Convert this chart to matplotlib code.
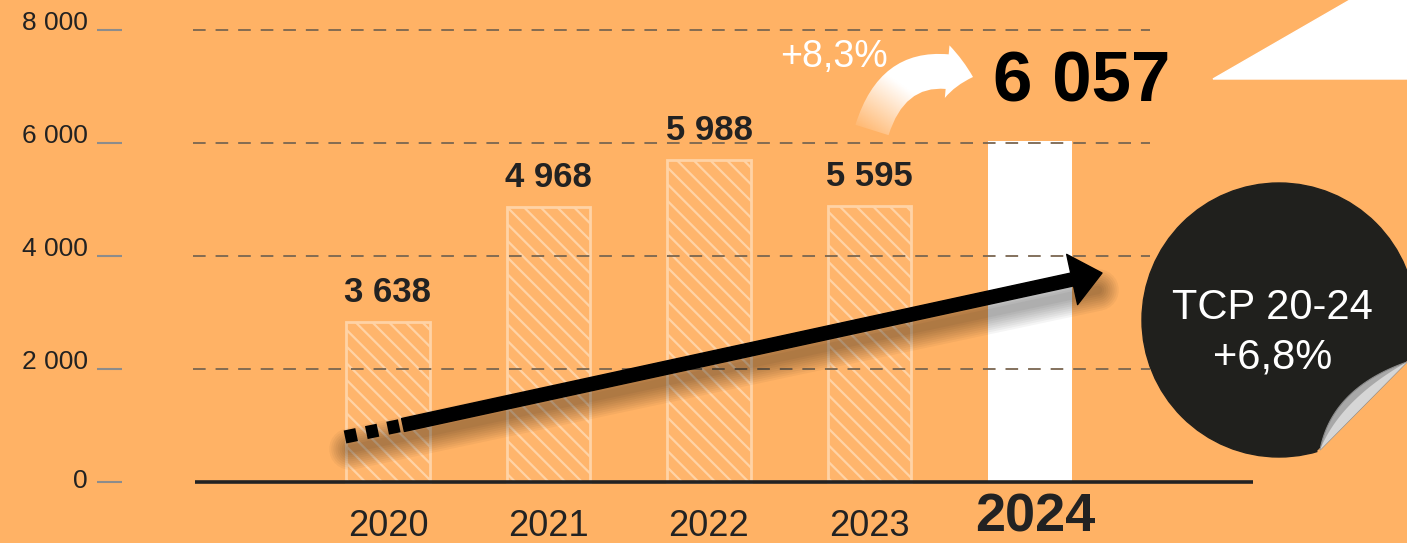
import matplotlib
matplotlib.use('Agg')
import matplotlib.pyplot as plt
import numpy as np
from matplotlib.patches import Ellipse, Polygon, FancyArrowPatch

# data
years = ['2020', '2021', '2022', '2023', '2024']
bar_heights = [2830, 4870, 5700, 4885, 6035]      # heights as drawn in the source
value_labels = ['3 638', '4 968', '5 988', '5 595', '6 057']
y_ticks = [0, 2000, 4000, 6000, 8000]
y_tick_labels = ['0', '2 000', '4 000', '6 000', '8 000']
growth_label = '+8,3%'
cagr_lines = ['TCP 20-24', '+6,8%']

BG = '#FFB265'
DARK = '#222222'

plt.rcParams['font.family'] = ['Liberation Sans', 'DejaVu Sans']
plt.rcParams['hatch.linewidth'] = 1.6

# image geometry (pixels) -> data coordinates
W, H = 1407, 543
X0, XS = 388, 160.5      # px of first category, px per category
Y0, YS = 482, 0.0565     # px of zero, px per unit


def px(x, y):
    return ((x - X0) / XS, (Y0 - y) / YS)


fig = plt.figure(figsize=(W / 100, H / 100), dpi=100, facecolor=BG)
ax = fig.add_axes([0, 0, 1, 1])
ax.set_facecolor(BG)
ax.axis('off')

x = np.arange(len(years))
ax.bar(x[:-1], bar_heights[:-1], width=0.523, color='#FFB56C',
       edgecolor='#FFD3A6', linewidth=2, hatch='\\\\', zorder=2)
ax.bar(x[-1], bar_heights[-1], width=0.523, color='white', zorder=2)

# grid + axis
yax = ax.get_yaxis_transform()
ax.hlines(y_ticks[1:], 193 / W, 1150 / W, transform=yax, colors='#7a6650',
          linestyles=(0, (7, 5.5)), lw=1.3, zorder=3)
ax.hlines(y_ticks, 97 / W, 122 / W, transform=yax, colors='#8c8c8c', lw=1.5)
ax.hlines(0, px(195, 0)[0], px(1253, 0)[0], color=DARK, lw=2.6, zorder=4)

for v, lab in zip(y_ticks, y_tick_labels):
    ax.annotate(lab, xy=(88 / W, v), xycoords=yax,
                xytext=(0, -6 if v == 0 else 0), textcoords='offset pixels',
                ha='right', va='baseline', fontsize=19, color=DARK)

# value labels
for i in range(len(years) - 1):
    ax.annotate(value_labels[i], xy=(x[i], bar_heights[i]), xytext=(0, 20),
                textcoords='offset pixels', ha='center', va='baseline',
                fontsize=25, weight='bold', color=DARK)
ax.annotate(value_labels[-1], xy=(x[-1], bar_heights[-1]), xytext=(52, 40),
            textcoords='offset pixels', ha='center', va='baseline',
            fontsize=51, weight='bold', color='black', zorder=6)

# year labels
for i, yr in enumerate(years):
    last = i == len(years) - 1
    ax.annotate(yr, xy=(x[i], 0), xytext=(5 if last else 0, -49 if last else -54),
                textcoords='offset pixels', ha='center', va='baseline',
                fontsize=39 if last else 26, weight='bold' if last else 'normal',
                color=DARK)

# trend arrow with soft shadow
dash_start = px(345, 437)
solid_start = px(403, 425)
tip = px(1102, 273)
sh0, sh1 = px(350, 449), px(1098, 290)
for k in range(9):
    ax.plot([sh0[0], sh1[0]], [sh0[1], sh1[1]], color='black', alpha=0.04,
            lw=6 + k * 3, solid_capstyle='round', zorder=4)
ax.plot([dash_start[0], solid_start[0]], [dash_start[1], solid_start[1]],
        color='black', lw=9.5, dashes=(0.9, 0.75), dash_capstyle='butt', zorder=5)
ax.add_patch(FancyArrowPatch(solid_start, tip, shrinkA=0, shrinkB=0,
                             arrowstyle='simple,head_length=22,head_width=37,tail_width=9.5',
                             color='black', zorder=5))

# curved white arrow with gradient
curve = FancyArrowPatch(px(872, 130), px(973, 77), shrinkA=0, shrinkB=0,
                        connectionstyle='arc3,rad=-0.5',
                        arrowstyle='simple,head_length=19,head_width=38,tail_width=25',
                        facecolor='none', edgecolor='none', zorder=5)
ax.add_patch(curve)
gx, gy = np.meshgrid(np.linspace(0, 1, 200), np.linspace(0, 1, 150))
grad = np.ones((150, 200, 4))
grad[..., 3] = np.clip(1.2 * (gx + gy) - 0.15, 0.08, 1)
bl, tr = px(850, 140), px(985, 45)
img = ax.imshow(grad, extent=[bl[0], tr[0], bl[1], tr[1]], origin='lower',
                aspect='auto', zorder=6)
img.set_clip_path(curve)

ax.text(*px(834, 67), growth_label, ha='center', va='baseline', fontsize=27,
        color='white', zorder=6)

# white corner shape
ax.add_patch(Polygon([px(1213, 79), px(1350, 0), px(1412, -3), px(1412, 79)],
                     color='white', zorder=1))

# sticker
ax.add_patch(Ellipse(px(1279, 320), 274 / XS, 274 / YS, color='#20201d', zorder=6))
ax.add_patch(Polygon([px(1318, 451), px(1425, 344), px(1425, 480), px(1330, 480)],
                     color=BG, zorder=7))
t = np.linspace(0, 1, 40)[:, None]
p0, c, p2 = np.array([1320, 450]), np.array([1332, 388]), np.array([1407, 362])
upper = (1 - t) ** 2 * p0 + 2 * (1 - t) * t * c + t ** 2 * p2
lens = [px(*p) for p in upper] + [px(1320, 450)]
ax.add_patch(Polygon(lens, facecolor='#a8a8a8', edgecolor='#8a8a8a', lw=0.8, zorder=8))
c2 = np.array([1340, 400])
inner = (1 - t) ** 2 * p0 + 2 * (1 - t) * t * c2 + t ** 2 * p2
ax.add_patch(Polygon([px(*p) for p in inner] + [px(1320, 450)],
                     facecolor='#d6d6d6', edgecolor='none', zorder=8))
ax.text(*px(1272, 319), cagr_lines[0], ha='center', va='baseline', fontsize=30,
        color='white', zorder=9)
ax.text(*px(1273, 369), cagr_lines[1], ha='center', va='baseline', fontsize=30,
        color='white', zorder=9)

ax.set_xlim(px(0, 0)[0], px(W, 0)[0])
ax.set_ylim(px(0, H)[1], px(0, 0)[1])

fig.savefig('out.png', dpi=100, facecolor=BG)
